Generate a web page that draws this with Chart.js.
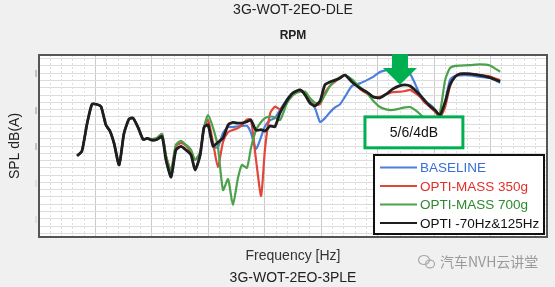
<!DOCTYPE html>
<html>
<head>
<meta charset="utf-8">
<script src="https://cdn.jsdelivr.net/npm/chart.js@4.4.1/dist/chart.umd.min.js"></script>
<style>
  html, body { margin: 0; padding: 0; background: #f0f0f0; }
  #wrap { position: relative; width: 555px; height: 287px; }
</style>
</head>
<body>
<div id="wrap"><canvas id="spl" width="555" height="287"></canvas></div>
<script>
// Titles and labels
const topTitle = '3G-WOT-2EO-DLE';
const topAxisTitle = 'RPM';
const xAxisTitle = 'Frequency [Hz]';
const yAxisTitle = 'SPL dB(A)';
const bottomTitle = '3G-WOT-2EO-3PLE';
const boxText = '5/6/4dB';
const watermark = '汽车NVH云讲堂';

const seriesNames = ['BASELINE', 'OPTI-MASS 350g', 'OPTI-MASS 700g', 'OPTI -70Hz&125Hz'];

// frequency samples (Hz; axis has no printed labels)
const freqHz = [13.5, 15.2, 17.0, 18.8, 20.6, 22.0, 23.7, 25.2, 26.6, 28.4, 30.1, 31.9, 33.3, 35.1, 36.9, 38.3,
  40.0, 41.8, 43.6, 45.0, 46.8, 48.5, 50.3, 52.1, 53.9, 55.3, 57.1,
  58.5, 59.9, 61.7, 63.4, 65.2, 67.0, 68.7, 70.5, 71.9, 73.7, 75.1, 76.9, 78.7, 80.1, 81.9, 83.6,
  85.4, 87.9, 90.0, 92.5, 94.3, 96.0, 97.8, 99.6, 101.3, 103.1, 104.9, 106.7, 108.4,
  110.9, 113.7, 116.2, 118.4, 120.8, 123.3, 125.4, 127.9, 129.7, 131.5, 133.2,
  135.0, 136.8, 138.5, 140.3, 142.1, 143.9, 145.6, 147.4, 149.2, 152.7, 156.3, 159.8, 163.4];

// SPL dB(A) per series
const baseline = [62.3, 63.6, 71.0, 76.5, 76.4, 75.8, 70.8, 69.0, 65.7, 59.8, 68.4, 72.4, 72.7, 70.1, 66.8, 67.1,
  66.6, 66.8, 67.5, 61.2, 56.5, 63.9, 64.9, 63.9, 62.5, 58.4, 62.5,
  70.2, 70.8, 64.7, 64.7, 68.6, 70.2, 70.2, 70.4, 70.5, 70.5, 68.6, 64.2, 67.5, 70.5, 72.1, 72.7,
  74.9, 77.9, 79.6, 80.2, 79.5, 77.4, 75.4, 71.6, 72.6, 74.3, 75.6, 76.5, 78.5,
  81.5, 82.2, 83.1, 84.0, 85.3, 85.9, 86.2, 85.9, 85.3, 84.8, 82.2,
  79.0, 76.8, 76.4, 74.9, 72.5, 77.0, 83.1, 84.2, 84.4, 84.4, 84.0, 83.7, 82.4];

const mass350 = [62.3, 63.6, 71.0, 76.5, 76.4, 75.8, 70.8, 69.0, 65.7, 59.8, 68.4, 72.4, 72.7, 70.1, 66.8, 67.1,
  66.9, 67.2, 68.3, 62.3, 58.4, 65.0, 65.8, 65.1, 63.3, 61.2, 63.3,
  70.2, 72.1, 65.8, 59.2, 66.1, 68.8, 69.4, 69.9, 70.8, 72.3, 72.3, 61.2, 51.3, 64.4, 74.0, 75.8,
  75.1, 77.1, 79.0, 80.4, 79.5, 77.2, 76.3, 76.5, 79.6, 81.5, 82.7, 83.7, 84.5,
  83.1, 80.7, 79.4, 78.5, 78.5, 79.3, 79.8, 79.9, 80.1, 80.4, 79.6,
  78.5, 76.9, 75.7, 74.4, 73.0, 75.7, 81.3, 84.0, 84.8, 84.8, 84.5, 84.1, 83.1];

const mass700 = [62.3, 63.6, 71.0, 76.5, 76.4, 75.8, 70.8, 69.0, 65.7, 59.8, 68.4, 72.4, 72.7, 70.1, 66.8, 67.1,
  66.9, 67.2, 68.3, 62.3, 58.1, 65.3, 66.4, 65.3, 63.9, 61.2, 63.3,
  70.2, 73.5, 69.9, 64.7, 52.9, 55.9, 48.8, 56.2, 59.8, 59.0, 64.4, 69.4, 71.6, 72.7, 73.1, 72.9,
  72.1, 76.8, 79.0, 79.9, 79.9, 78.2, 76.9, 76.9, 79.0, 81.5, 82.9, 84.0, 84.5,
  83.3, 81.2, 79.6, 77.4, 75.7, 75.0, 74.9, 75.3, 75.6, 75.7, 74.9,
  73.8, 72.4, 71.9, 71.9, 74.3, 83.1, 86.4, 87.0, 87.1, 87.2, 87.4, 87.1, 85.4];

const opti70125 = [62.3, 63.6, 71.0, 76.5, 76.4, 75.8, 70.8, 69.0, 65.7, 59.8, 68.4, 72.4, 72.7, 70.1, 66.8, 67.1,
  66.6, 66.8, 67.6, 61.2, 56.5, 63.9, 64.9, 63.9, 62.5, 58.4, 62.5,
  70.2, 70.8, 65.0, 66.0, 67.2, 70.8, 71.5, 71.3, 71.3, 71.7, 72.1, 69.3, 69.5, 69.1, 70.5, 70.3,
  74.1, 77.6, 79.6, 80.4, 79.0, 76.8, 76.0, 77.4, 81.8, 82.6, 83.1, 83.7, 84.5,
  82.6, 80.9, 79.8, 78.5, 78.2, 79.4, 80.7, 81.6, 81.8, 81.5, 80.4,
  79.0, 77.4, 76.0, 74.9, 73.5, 77.1, 81.8, 84.0, 84.8, 84.8, 84.4, 83.8, 82.7];

// axis ranges and grid
const xMin = 0, xMax = 180;
const xMajor = [0, 20, 40, 60, 80, 100, 120, 140, 160, 180];
const xMinor = [4, 8, 12, 16, 24, 28, 32, 36, 44, 48, 52, 56, 64, 68, 72, 76, 84, 88, 92, 96,
  104, 108, 112, 116, 124, 128, 132, 136, 144, 148, 152, 156, 164, 168, 172, 176];
const yMin = 40, yMax = 90;
const yGrid = [41, 43, 45, 47, 49, 51, 53, 55, 57, 59, 61, 63, 65, 67, 69, 71, 73, 75, 77, 79, 81, 83, 85, 87, 89];
const yMarked = [45, 55, 65, 75, 85];

// annotation: arrow at the peak, box with the reduction
const arrowHz = 127.9, arrowHeadDb = 86.4, arrowTipDb = 81.8;
const boxHz = [115.5, 150.2], boxDb = [64.5, 73.0];

const lineColors = ['#4d7fdc', '#e2463b', '#4ca24c', '#1e1e1e'];
const textColors = ['#3a6fd6', '#e0302a', '#2e8a2e', '#111111'];
const font = 'Liberation Sans, Arial, sans-serif';

const seriesValues = [baseline, mass350, mass700, opti70125];
const drawOrder = [3, 2, 1, 0];

const datasets = seriesValues.map((vals, i) => ({
  label: seriesNames[i],
  data: freqHz.map((f, k) => ({ x: f, y: vals[k] })),
  borderColor: lineColors[i],
  borderWidth: i === 3 ? 2.8 : 2.2,
  pointRadius: 0,
  tension: 0.2,
  fill: false,
  order: drawOrder[i]
}));

const backdrop = {
  id: 'backdrop',
  beforeDraw(chart) {
    const { ctx, chartArea: a } = chart;
    ctx.save();
    ctx.fillStyle = '#f0f0f0';
    ctx.fillRect(0, 0, chart.width, chart.height);
    ctx.fillStyle = '#ffffff';
    ctx.fillRect(a.left, a.top, a.right - a.left, a.bottom - a.top);
    ctx.restore();
  }
};

const overlay = {
  id: 'overlay',
  afterDatasetsDraw(chart) {
    const { ctx, chartArea: a, scales } = chart;
    const xs = scales.x, ys = scales.y;
    ctx.save();

    // frame
    ctx.strokeStyle = '#555';
    ctx.lineWidth = 2;
    ctx.strokeRect(a.left, a.top, a.right - a.left, a.bottom - a.top);

    // green arrow
    const ax = xs.getPixelForValue(arrowHz);
    const hy = ys.getPixelForValue(arrowHeadDb);
    const ty = ys.getPixelForValue(arrowTipDb);
    ctx.fillStyle = '#00b050';
    ctx.beginPath();
    ctx.moveTo(ax - 8, a.top - 1);
    ctx.lineTo(ax + 8, a.top - 1);
    ctx.lineTo(ax + 8, hy);
    ctx.lineTo(ax + 17, hy);
    ctx.lineTo(ax, ty);
    ctx.lineTo(ax - 17, hy);
    ctx.lineTo(ax - 8, hy);
    ctx.closePath();
    ctx.fill();

    // reduction box
    const bx0 = xs.getPixelForValue(boxHz[0]), bx1 = xs.getPixelForValue(boxHz[1]);
    const by0 = ys.getPixelForValue(boxDb[1]), by1 = ys.getPixelForValue(boxDb[0]);
    ctx.fillStyle = '#fff';
    ctx.fillRect(bx0, by0, bx1 - bx0, by1 - by0);
    ctx.strokeStyle = '#00b050';
    ctx.lineWidth = 3;
    ctx.strokeRect(bx0, by0, bx1 - bx0, by1 - by0);
    ctx.fillStyle = '#111';
    ctx.font = '14px ' + font;
    ctx.textAlign = 'center';
    ctx.textBaseline = 'middle';
    ctx.fillText(boxText, (bx0 + bx1) / 2, (by0 + by1) / 2 + 1);

    // legend box
    const lw = 170, lh = 79;
    const lx = a.right - 3 - lw, ly = a.bottom - 3 - lh;
    ctx.fillStyle = '#fff';
    ctx.fillRect(lx, ly, lw, lh);
    ctx.strokeStyle = '#111';
    ctx.lineWidth = 2;
    ctx.strokeRect(lx, ly, lw, lh);
    ctx.font = '13.5px ' + font;
    ctx.textAlign = 'left';
    chart.data.datasets.forEach((ds, i) => {
      const y = ly + 12.5 + i * 18.5;
      ctx.strokeStyle = ds.borderColor;
      ctx.lineWidth = 2;
      ctx.beginPath();
      ctx.moveTo(lx + 6, y);
      ctx.lineTo(lx + 43, y);
      ctx.stroke();
      ctx.fillStyle = textColors[i];
      ctx.fillText(ds.label, lx + 46, y + 1);
    });
    ctx.restore();
  },
  afterDraw(chart) {
    const { ctx } = chart;
    ctx.save();
    // watermark with a small two-bubble mark
    ctx.strokeStyle = '#a8a8a8';
    ctx.lineWidth = 1.2;
    ctx.beginPath();
    ctx.ellipse(424, 260, 5.5, 4.5, 0, 0, Math.PI * 2);
    ctx.stroke();
    ctx.beginPath();
    ctx.ellipse(430, 264, 4.5, 3.8, 0, 0, Math.PI * 2);
    ctx.stroke();
    ctx.fillStyle = '#9a9a9a';
    ctx.font = '14px "Noto Sans CJK SC", sans-serif';
    ctx.textAlign = 'left';
    ctx.textBaseline = 'middle';
    ctx.fillText(watermark, 440, 262);
    ctx.restore();
  }
};

const ctx = document.getElementById('spl').getContext('2d');
new Chart(ctx, {
  type: 'line',
  data: { datasets: datasets },
  options: {
    responsive: false,
    animation: false,
    layout: { padding: { left: 0, right: 8, top: 0, bottom: 0 } },
    plugins: {
      legend: { display: false },
      tooltip: { enabled: false },
      title: {
        display: true, text: topTitle, fullSize: false, color: '#222',
        font: { family: font, size: 14, weight: 'normal' },
        padding: { top: 2, bottom: 0 }
      },
      subtitle: {
        display: true, text: bottomTitle, position: 'bottom', fullSize: false, color: '#222',
        font: { family: font, size: 14, weight: 'normal' },
        padding: { top: 1, bottom: 0 }
      }
    },
    scales: {
      x: {
        type: 'linear', position: 'bottom', min: xMin, max: xMax,
        afterBuildTicks: s => { s.ticks = xMajor.map(v => ({ value: v })); },
        afterFit: s => { s.height = 32.2; },
        ticks: { display: false },
        grid: { color: '#cbcbcb', lineWidth: 1, drawTicks: false },
        border: { display: false },
        title: {
          display: true, text: xAxisTitle, color: '#333',
          font: { family: font, size: 14 },
          padding: { top: 0, bottom: 5 }
        }
      },
      xMinor: {
        type: 'linear', position: 'bottom', min: xMin, max: xMax,
        afterBuildTicks: s => { s.ticks = xMinor.map(v => ({ value: v })); },
        afterFit: s => { s.height = 0; },
        ticks: { display: false },
        grid: { color: '#dedede', lineWidth: 1, drawTicks: false },
        border: { display: false, dash: [2, 2] }
      },
      x2: {
        type: 'linear', position: 'top', min: xMin, max: xMax,
        afterFit: s => { s.height = 36.2; },
        ticks: { display: false },
        grid: { display: false },
        border: { display: false },
        title: {
          display: true, text: topAxisTitle, color: '#222',
          font: { family: font, size: 12, weight: 'bold' },
          padding: { top: 10, bottom: 0 }
        }
      },
      y: {
        type: 'linear', min: yMin, max: yMax,
        afterBuildTicks: s => { s.ticks = yGrid.map(v => ({ value: v })); },
        afterFit: s => { s.width = 39; },
        ticks: {
          autoSkip: false,
          padding: 2,
          font: { family: font, size: 8 },
          color: c => (c.tick && c.tick.value < 60 ? '#c4c4c4' : '#6a6a6a'),
          callback: v => (yMarked.includes(v) ? '|' : '')
        },
        grid: { color: '#dddddd', lineWidth: 1, drawTicks: false },
        border: { display: false },
        title: {
          display: true, text: yAxisTitle, color: '#222',
          font: { family: font, size: 14 },
          padding: { top: 7, bottom: 0 }
        }
      }
    }
  },
  plugins: [backdrop, overlay]
});
</script>
</body>
</html>
